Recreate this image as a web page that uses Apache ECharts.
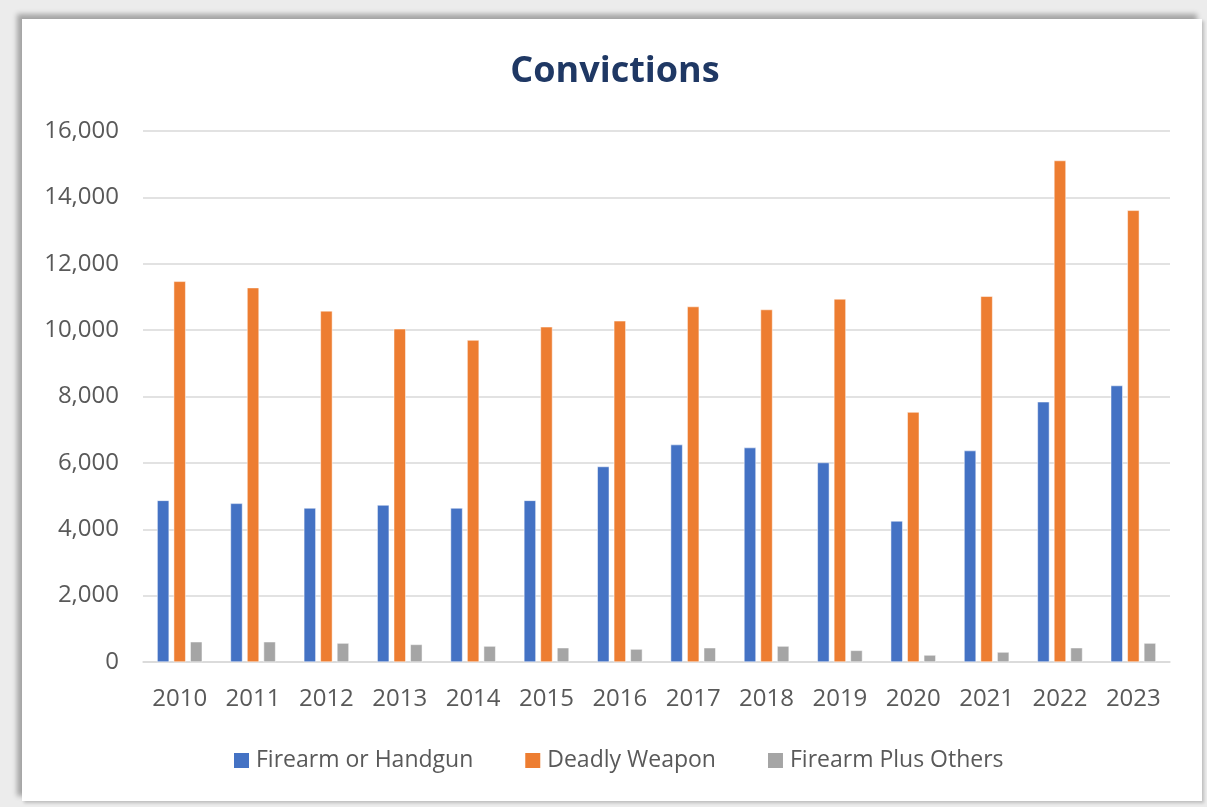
<!DOCTYPE html>
<html>
<head>
<meta charset="utf-8">
<title>Convictions</title>
<script src="https://cdn.jsdelivr.net/npm/echarts@6/dist/echarts.min.js"></script>
<style>
	html, body { margin: 0; padding: 0; }
	body { width: 1207px; height: 807px; background: #ececec; position: relative; overflow: hidden; }
	#card { position: absolute; left: 22px; top: 19px; width: 1180px; height: 782px; background: #ffffff;
		box-shadow: -5px -5px 5px rgba(0, 0, 0, 0.3), 2px 2px 3px rgba(0, 0, 0, 0.2); }
	#echart1 { position: absolute; left: 0; top: 0; width: 1207px; height: 807px; }
</style>
</head>
<body>
<div id="card"></div>
<div id="echart1"></div>
<script>
var years = ['2010', '2011', '2012', '2013', '2014', '2015', '2016', '2017', '2018', '2019', '2020', '2021', '2022', '2023'];
var seriesNames = ['Firearm or Handgun', 'Deadly Weapon', 'Firearm Plus Others'];
// 读图估计的数值
var firearm = [4870, 4780, 4640, 4730, 4640, 4870, 5890, 6550, 6460, 6010, 4250, 6370, 7840, 8330];
var deadly = [11470, 11280, 10580, 10040, 9700, 10100, 10280, 10710, 10620, 10940, 7530, 11020, 15110, 13610];
var plusOthers = [610, 610, 570, 530, 480, 430, 390, 430, 480, 350, 210, 300, 430, 570];
var yTicks = [0, 2000, 4000, 6000, 8000, 10000, 12000, 14000, 16000];

var textColor = '#595959';
var gridColor = '#d9d9d9';
var font = '"Open Sans", "Noto Sans", sans-serif';

function barSeries(name, data) {
	return {
		name : name,
		type : 'bar',
		data : data,
		barWidth : 12,
		barGap : '38%',
		itemStyle : {
			borderColor : '#ffffff',
			borderWidth : 0.5
		}
	};
}

var option = {
	animation : false,
	backgroundColor : 'transparent',
	color : [ '#4472C4', '#ED7D31', '#A5A5A5' ],
	title : {
		text : 'Convictions',
		left : 610,
		top : 49,
		textAlign : 'center',
		textStyle : {
			fontFamily : font,
			fontSize : 36,
			fontWeight : 'bold',
			color : '#1f3864'
		}
	},
	grid : {
		left : 143,
		right : 37,
		top : 131,
		bottom : 145,
		containLabel : false
	},
	legend : {
		data : seriesNames,
		left : 229,
		top : 744,
		itemWidth : 15,
		itemHeight : 15,
		itemGap : 52,
		icon : 'rect',
		itemStyle : { borderWidth : 0 },
		textStyle : {
			fontFamily : font,
			fontSize : 23,
			color : textColor,
			padding : [ 0, 0, 0, 2 ]
		}
	},
	xAxis : {
		type : 'category',
		data : years,
		axisTick : { show : false },
		axisLine : {
			lineStyle : { color : gridColor, width : 1.5 }
		},
		axisLabel : {
			margin : 25,
			fontFamily : font,
			fontSize : 24,
			color : textColor
		}
	},
	yAxis : {
		type : 'value',
		min : yTicks[0],
		max : yTicks[yTicks.length - 1],
		interval : yTicks[1] - yTicks[0],
		axisLine : { show : false },
		axisTick : { show : false },
		splitLine : {
			lineStyle : { color : gridColor, width : 1.5 }
		},
		axisLabel : {
			margin : 24,
			fontFamily : font,
			fontSize : 24,
			color : textColor,
			formatter : function(v) {
				return v.toLocaleString('en-US');
			}
		}
	},
	series : [ barSeries(seriesNames[0], firearm), barSeries(seriesNames[1], deadly), barSeries(seriesNames[2], plusOthers) ]
};

var myChart = echarts.init(document.getElementById('echart1'), null, { renderer : 'canvas' });
myChart.setOption(option);
</script>
</body>
</html>
